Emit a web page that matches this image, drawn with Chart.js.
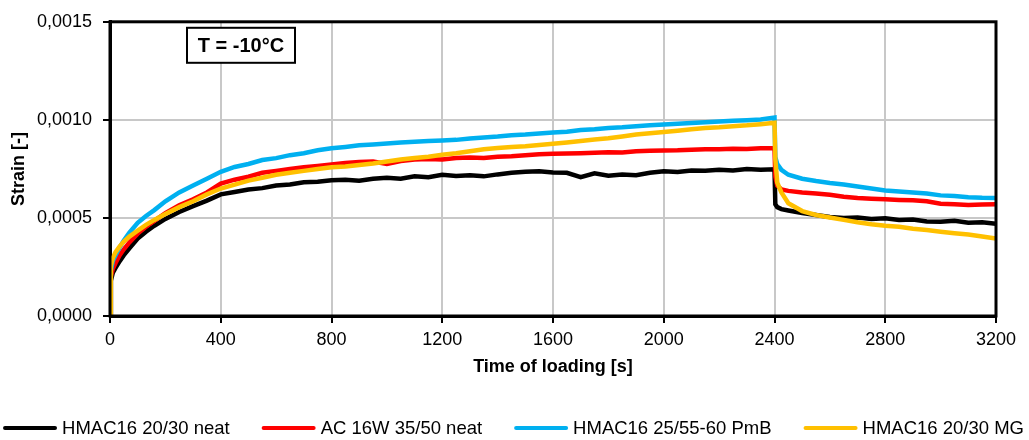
<!DOCTYPE html>
<html>
<head>
<meta charset="utf-8">
<script src="https://cdn.jsdelivr.net/npm/chart.js@4.4.1/dist/chart.umd.min.js"></script>
<style>
  html, body { margin: 0; padding: 0; background: #fff; }
  #wrap { width: 1029px; height: 440px; }
</style>
</head>
<body>
<div id="wrap"><canvas id="strainChart" width="1029" height="440"></canvas></div>
<script>
// Creep test at -10°C, strain

const timeS = [
  0, 3, 10, 20, 35, 50, 70, 100, 130, 160,
  200, 250, 300, 350, 400, 450, 500, 550, 600, 650,
  700, 750, 800, 850, 900, 950, 1000, 1050, 1100, 1150,
  1200, 1250, 1300, 1350, 1400, 1450, 1500, 1550, 1600, 1650,
  1700, 1750, 1800, 1850, 1900, 1950, 2000, 2050, 2100, 2150,
  2200, 2250, 2300, 2350, 2400, 2403, 2410, 2425, 2450, 2500,
  2550, 2600, 2650, 2700, 2750, 2800, 2850, 2900, 2950, 3000,
  3050, 3100, 3150, 3200
];

const hmacNeat = [
  0, 1.80e-4, 2.20e-4, 2.45e-4, 2.80e-4, 3.10e-4, 3.45e-4, 3.95e-4, 4.30e-4, 4.60e-4,
  4.95e-4, 5.30e-4, 5.60e-4, 5.88e-4, 6.20e-4, 6.32e-4, 6.45e-4, 6.52e-4, 6.65e-4, 6.70e-4,
  6.82e-4, 6.85e-4, 6.92e-4, 6.95e-4, 6.90e-4, 7.00e-4, 7.05e-4, 7.00e-4, 7.12e-4, 7.08e-4,
  7.20e-4, 7.14e-4, 7.18e-4, 7.12e-4, 7.22e-4, 7.30e-4, 7.36e-4, 7.38e-4, 7.32e-4, 7.30e-4,
  7.08e-4, 7.28e-4, 7.15e-4, 7.22e-4, 7.18e-4, 7.30e-4, 7.38e-4, 7.34e-4, 7.42e-4, 7.40e-4,
  7.46e-4, 7.42e-4, 7.50e-4, 7.46e-4, 7.48e-4, 5.70e-4, 5.55e-4, 5.45e-4, 5.38e-4, 5.25e-4,
  5.15e-4, 5.05e-4, 5.00e-4, 5.02e-4, 4.95e-4, 4.98e-4, 4.90e-4, 4.92e-4, 4.82e-4, 4.80e-4,
  4.85e-4, 4.75e-4, 4.78e-4, 4.70e-4
];

const ac16wNeat = [
  0, 2.00e-4, 2.40e-4, 2.70e-4, 3.10e-4, 3.40e-4, 3.75e-4, 4.20e-4, 4.55e-4, 4.85e-4,
  5.25e-4, 5.65e-4, 5.95e-4, 6.30e-4, 6.75e-4, 6.95e-4, 7.10e-4, 7.30e-4, 7.40e-4, 7.50e-4,
  7.58e-4, 7.65e-4, 7.72e-4, 7.80e-4, 7.85e-4, 7.88e-4, 7.75e-4, 7.90e-4, 7.98e-4, 8.00e-4,
  7.98e-4, 8.05e-4, 8.08e-4, 8.05e-4, 8.12e-4, 8.15e-4, 8.20e-4, 8.25e-4, 8.27e-4, 8.28e-4,
  8.30e-4, 8.32e-4, 8.35e-4, 8.34e-4, 8.40e-4, 8.42e-4, 8.44e-4, 8.45e-4, 8.48e-4, 8.50e-4,
  8.50e-4, 8.53e-4, 8.52e-4, 8.55e-4, 8.55e-4, 7.10e-4, 6.65e-4, 6.45e-4, 6.38e-4, 6.30e-4,
  6.25e-4, 6.18e-4, 6.08e-4, 6.02e-4, 5.98e-4, 5.95e-4, 5.92e-4, 5.90e-4, 5.85e-4, 5.72e-4,
  5.70e-4, 5.66e-4, 5.68e-4, 5.70e-4
];

const hmacPmb = [
  0, 2.30e-4, 2.80e-4, 3.10e-4, 3.50e-4, 3.85e-4, 4.25e-4, 4.75e-4, 5.10e-4, 5.40e-4,
  5.85e-4, 6.30e-4, 6.65e-4, 7.00e-4, 7.35e-4, 7.60e-4, 7.75e-4, 7.95e-4, 8.05e-4, 8.20e-4,
  8.30e-4, 8.45e-4, 8.55e-4, 8.62e-4, 8.70e-4, 8.75e-4, 8.80e-4, 8.85e-4, 8.88e-4, 8.92e-4,
  8.95e-4, 8.98e-4, 9.05e-4, 9.10e-4, 9.15e-4, 9.22e-4, 9.25e-4, 9.30e-4, 9.35e-4, 9.40e-4,
  9.48e-4, 9.52e-4, 9.58e-4, 9.62e-4, 9.68e-4, 9.72e-4, 9.76e-4, 9.80e-4, 9.84e-4, 9.88e-4,
  9.92e-4, 9.95e-4, 9.98e-4, 10.02e-4, 10.12e-4, 8.10e-4, 7.75e-4, 7.45e-4, 7.20e-4, 7.00e-4,
  6.88e-4, 6.78e-4, 6.70e-4, 6.60e-4, 6.50e-4, 6.40e-4, 6.35e-4, 6.30e-4, 6.25e-4, 6.15e-4,
  6.12e-4, 6.06e-4, 6.03e-4, 6.02e-4
];

const hmacMg = [
  0, 2.55e-4, 2.95e-4, 3.25e-4, 3.55e-4, 3.80e-4, 4.05e-4, 4.35e-4, 4.65e-4, 4.90e-4,
  5.20e-4, 5.55e-4, 5.85e-4, 6.20e-4, 6.50e-4, 6.70e-4, 6.90e-4, 7.05e-4, 7.20e-4, 7.30e-4,
  7.40e-4, 7.50e-4, 7.58e-4, 7.62e-4, 7.70e-4, 7.78e-4, 7.88e-4, 7.98e-4, 8.05e-4, 8.12e-4,
  8.22e-4, 8.30e-4, 8.40e-4, 8.50e-4, 8.56e-4, 8.62e-4, 8.66e-4, 8.72e-4, 8.78e-4, 8.85e-4,
  8.92e-4, 9.00e-4, 9.06e-4, 9.15e-4, 9.25e-4, 9.32e-4, 9.38e-4, 9.45e-4, 9.52e-4, 9.58e-4,
  9.62e-4, 9.68e-4, 9.72e-4, 9.78e-4, 9.85e-4, 8.00e-4, 6.80e-4, 6.30e-4, 5.75e-4, 5.35e-4,
  5.15e-4, 5.02e-4, 4.90e-4, 4.78e-4, 4.68e-4, 4.60e-4, 4.55e-4, 4.45e-4, 4.38e-4, 4.30e-4,
  4.22e-4, 4.15e-4, 4.05e-4, 3.95e-4
];

const seriesNames = ['HMAC16 20/30 neat', 'AC 16W 35/50 neat', 'HMAC16 25/55-60 PmB', 'HMAC16 20/30 MG'];
const seriesColors = ['#000000', '#ff0000', '#00b0f0', '#ffc000'];
const seriesValues = [hmacNeat, ac16wNeat, hmacPmb, hmacMg];

const xTicks = [0, 400, 800, 1200, 1600, 2000, 2400, 2800, 3200];
const yTicks = [0, 0.0005, 0.0010, 0.0015];

const FONT = "'Liberation Sans', Arial, sans-serif";

// frame round the plot area plus the temperature box
const framePlugin = {
  id: 'frame',
  afterDatasetsDraw(chart) {
    const { ctx, chartArea: a } = chart;
    ctx.save();
    ctx.strokeStyle = '#000';
    ctx.lineWidth = 3;
    ctx.strokeRect(a.left, a.top, a.right - a.left, a.bottom - a.top);

    // T = -10°C label
    const bx = a.left + 77, by = a.top + 6, bw = 108, bh = 35;
    ctx.fillStyle = '#fff';
    ctx.fillRect(bx, by, bw, bh);
    ctx.lineWidth = 2;
    ctx.strokeRect(bx, by, bw, bh);
    ctx.fillStyle = '#000';
    ctx.font = 'bold 20px ' + FONT;
    ctx.textAlign = 'center';
    ctx.textBaseline = 'middle';
    ctx.fillText('T = -10°C', bx + bw / 2, by + bh / 2 + 1);
    ctx.restore();
  }
};

// legend drawn by hand so spacing matches the original
const legendPlugin = {
  id: 'bottomLegend',
  afterDraw(chart) {
    const { ctx } = chart;
    const lineLen = 54, gapText = 5, gapItem = 32;
    ctx.save();
    ctx.font = '18.5px ' + FONT;
    const widths = chart.data.datasets.map(ds => lineLen + gapText + ctx.measureText(ds.label).width);
    const total = widths.reduce((s, w) => s + w, 0) + gapItem * (widths.length - 1);
    let x = (chart.width - total) / 2 - 1;
    const y = chart.height - 12;
    chart.data.datasets.forEach((ds, i) => {
      ctx.strokeStyle = ds.borderColor;
      ctx.lineWidth = 4;
      ctx.lineCap = 'round';
      ctx.beginPath();
      ctx.moveTo(x + 2, y);
      ctx.lineTo(x + lineLen - 2, y);
      ctx.stroke();
      ctx.fillStyle = '#000';
      ctx.textAlign = 'left';
      ctx.textBaseline = 'middle';
      ctx.fillText(ds.label, x + lineLen + gapText, y + 1);
      x += widths[i] + gapItem;
    });
    ctx.restore();
  }
};

function buildDatasets() {
  return seriesNames.map((name, i) => ({
    label: name,
    data: timeS.map((t, k) => ({ x: t, y: seriesValues[i][k] })),
    borderColor: seriesColors[i],
    backgroundColor: seriesColors[i],
    borderWidth: 4.5,
    pointRadius: 0,
    tension: 0,
    fill: false,
    order: seriesNames.length - i
  }));
}

document.addEventListener('DOMContentLoaded', function() {
  const ctx = document.getElementById('strainChart').getContext('2d');
  new Chart(ctx, {
    type: 'line',
    data: { datasets: buildDatasets() },
    options: {
      responsive: false,
      animation: false,
      layout: { padding: { top: 20, right: 33, bottom: 52, left: 0 } },
      plugins: {
        legend: { display: false },
        tooltip: { enabled: false }
      },
      scales: {
        x: {
          type: 'linear',
          min: 0,
          max: 3200,
          afterBuildTicks: s => { s.ticks = xTicks.map(v => ({ value: v })); },
          afterFit: s => { s.height = 72; },
          grid: { color: '#c8c8c8', lineWidth: 2, tickColor: '#000', tickWidth: 2, tickLength: 7 },
          border: { color: '#000', width: 3 },
          ticks: {
            color: '#000',
            font: { family: FONT, size: 18 },
            padding: 6,
            maxRotation: 0,
            callback: v => String(v)
          },
          title: {
            display: true,
            text: 'Time of loading [s]',
            color: '#000',
            font: { family: FONT, size: 18, weight: 'bold' },
            padding: { top: 0, bottom: 10 }
          }
        },
        y: {
          min: 0,
          max: 0.0015,
          afterBuildTicks: s => { s.ticks = yTicks.map(v => ({ value: v })); },
          afterFit: s => { s.width = 110; },
          grid: { color: '#c8c8c8', lineWidth: 2, tickColor: '#000', tickWidth: 2, tickLength: 7 },
          border: { color: '#000', width: 3 },
          ticks: {
            color: '#000',
            font: { family: FONT, size: 18 },
            padding: 11,
            callback: v => v.toFixed(4).replace('.', ',')
          },
          title: {
            display: true,
            text: 'Strain [-]',
            color: '#000',
            font: { family: FONT, size: 18, weight: 'bold' },
            padding: { top: 8, bottom: 0 }
          }
        }
      }
    },
    plugins: [framePlugin, legendPlugin]
  });
});
</script>
</body>
</html>
